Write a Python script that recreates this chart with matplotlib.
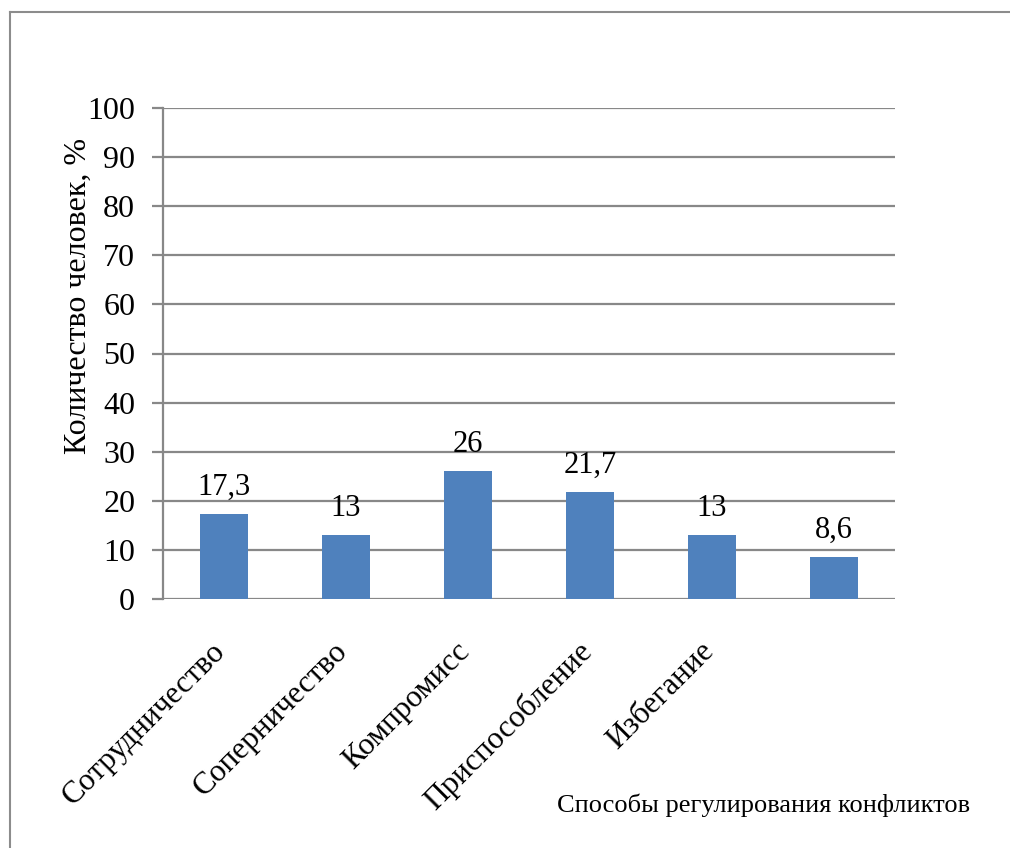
import matplotlib.pyplot as plt
from matplotlib.lines import Line2D
from matplotlib.transforms import ScaledTranslation

plt.rcParams['font.family'] = ['Liberation Serif', 'DejaVu Serif']

categories = ['Сотрудничество', 'Соперничество', 'Компромисс',
              'Приспособление', 'Избегание', '']
values = [17.3, 13, 26, 21.7, 13, 8.6]
value_labels = ['17,3', '13', '26', '21,7', '13', '8,6']
yticks = [0, 10, 20, 30, 40, 50, 60, 70, 80, 90, 100]

W, H = 1010, 848
fig = plt.figure(figsize=(W / 100, H / 100), dpi=100)
ax = fig.add_axes([163 / W, 1 - 599 / H, 732 / W, 491 / H])

x = range(len(values))
ax.bar(x, values, width=0.4, color='#4F81BD', zorder=3)
for xi, v, lab in zip(x, values, value_labels):
    ax.text(xi, v + 2.5, lab, ha='center', va='bottom', fontsize=22)

ax.set_xlim(-0.5, len(values) - 0.5)
ax.set_ylim(0, 100)
ax.set_yticks(yticks)
ax.set_yticklabels([str(t) for t in yticks], fontsize=23)
ax.yaxis.grid(True, color='#888888', linewidth=1.6, zorder=0)
ax.tick_params(axis='y', length=8, width=1.6, color='#888888', pad=12)
ax.tick_params(axis='x', length=0)
for s in ['top', 'right', 'bottom']:
    ax.spines[s].set_visible(False)
ax.spines['left'].set_color('#888888')
ax.spines['left'].set_linewidth(1.6)

ax.set_xticks(list(x))
ax.set_xticklabels(categories, rotation=45, ha='right', va='top',
                   rotation_mode='anchor', fontsize=22.5)
# push the slanted category names down and a bit to the left
shift = ScaledTranslation(-13 / 100, -33 / 100, fig.dpi_scale_trans)
for lbl in ax.get_xticklabels():
    lbl.set_transform(lbl.get_transform() + shift)

fig.text(78 / W, 1 - 296 / H, 'Количество человек, %', rotation=90,
         ha='center', va='center', fontsize=23)
fig.text(970 / W, 1 - 805 / H, 'Способы регулирования конфликтов',
         ha='right', va='center', fontsize=19)

# outer frame of the chart area
fig.add_artist(Line2D([10 / W, 10 / W], [0, 1 - 12 / H],
                      transform=fig.transFigure, color='#8c8c8c', lw=1.5))
fig.add_artist(Line2D([10 / W, 1], [1 - 12 / H, 1 - 12 / H],
                      transform=fig.transFigure, color='#8c8c8c', lw=1.5))

fig.savefig('out.png', dpi=100)
